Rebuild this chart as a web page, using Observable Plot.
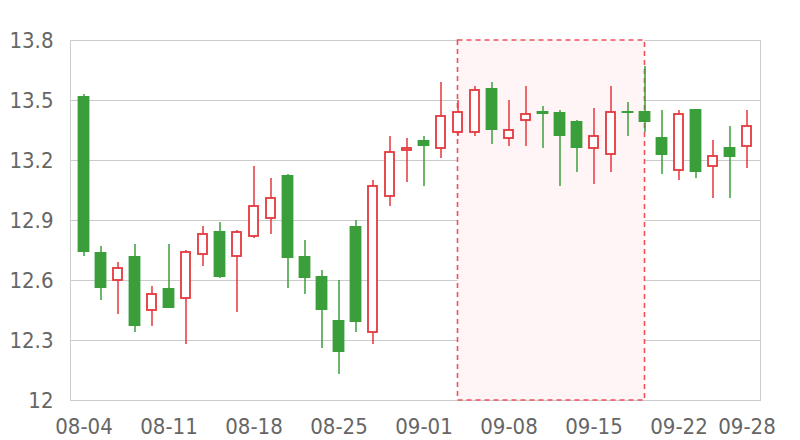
<!DOCTYPE html>
<html><head><meta charset="utf-8">
<script src="https://cdn.jsdelivr.net/npm/d3@7"></script>
<script src="https://cdn.jsdelivr.net/npm/@observablehq/plot@0.6"></script>
<style>body{margin:0;background:#fff}</style>
</head><body><div id="chart"></div>
<script>
const dates = ["08-04","08-05","08-06","08-07","08-08","08-11","08-12","08-13","08-14","08-15",
  "08-18","08-19","08-20","08-21","08-22","08-25","08-26","08-27","08-28","08-29",
  "09-01","09-02","09-03","09-04","09-05","09-08","09-09","09-10","09-11","09-12",
  "09-15","09-16","09-17","09-18","09-19","09-22","09-23","09-24","09-25","09-28"];
const open  = [13.52,12.74,12.60,12.72,12.45,12.56,12.51,12.73,12.845,12.72,
  12.82,12.91,13.125,12.72,12.62,12.40,12.87,12.34,13.02,13.25,
  13.30,13.26,13.34,13.34,13.56,13.31,13.40,13.445,13.44,13.395,
  13.26,13.23,13.445,13.445,13.315,13.15,13.455,13.17,13.265,13.27];
const close = [12.74,12.56,12.66,12.37,12.53,12.46,12.74,12.83,12.615,12.84,
  12.97,13.01,12.71,12.61,12.45,12.24,12.39,13.07,13.24,13.26,
  13.27,13.42,13.44,13.55,13.35,13.35,13.43,13.43,13.32,13.26,
  13.32,13.44,13.435,13.39,13.225,13.43,13.14,13.22,13.215,13.37];
const high  = [13.53,12.77,12.69,12.78,12.57,12.78,12.75,12.87,12.89,12.85,
  13.17,13.11,13.13,12.80,12.65,12.60,12.90,13.10,13.32,13.31,
  13.32,13.59,13.50,13.57,13.59,13.50,13.57,13.47,13.45,13.40,
  13.46,13.57,13.49,13.67,13.45,13.45,13.455,13.30,13.37,13.45];
const low   = [12.72,12.50,12.43,12.34,12.37,12.46,12.28,12.67,12.61,12.44,
  12.81,12.83,12.56,12.53,12.26,12.13,12.34,12.28,12.97,13.09,
  13.07,13.21,13.32,13.32,13.28,13.27,13.27,13.26,13.07,13.14,
  13.08,13.14,13.32,13.34,13.13,13.10,13.11,13.01,13.01,13.16];
const yTicks = [12, 12.3, 12.6, 12.9, 13.2, 13.5, 13.8];
const xTickLabels = ["08-04","08-11","08-18","08-25","09-01","09-08","09-15","09-22","09-28"];
const highlight = ["09-03","09-18"];

const data = dates.map((d,i)=>({date:d, open:open[i], close:close[i], high:high[i], low:low[i], up: close[i] >= open[i]}));
const upData = data.filter(d=>d.up), downData = data.filter(d=>!d.up);
const green = "#3a9e3a", red = "#e5373c";

const chart = Plot.plot({
  width: 800, height: 440,
  marginLeft: 70, marginRight: 40, marginTop: 40, marginBottom: 40,
  style: {fontFamily: "'DejaVu Sans Condensed', 'DejaVu Sans', sans-serif", fontSize: "22px", color: "#666", background: "#fff"},
  x: {type: "band", domain: dates, padding: 0, ticks: xTickLabels, tickSize: 0, tickPadding: 18, label: null},
  y: {domain: [12, 13.8], ticks: yTicks, tickFormat: d => String(d), tickSize: 0, tickPadding: 17, label: null},
  marks: [
    Plot.ruleY(yTicks, {stroke: "#cccccc"}),
    Plot.frame({stroke: "#cccccc"}),
    Plot.ruleX(downData, {x: "date", y1: "low", y2: "high", stroke: green, strokeWidth: 1.5}),
    Plot.ruleX(upData, {x: "date", y1: "low", y2: "high", stroke: red, strokeWidth: 1.5}),
    Plot.barY(downData, {x: "date", y1: "open", y2: "close", fill: green, insetLeft: 2.6, insetRight: 2.6}),
    Plot.barY(upData, {x: "date", y1: "open", y2: "close", fill: "#fff", stroke: red, strokeWidth: 1.8, insetLeft: 4, insetRight: 4})
  ]
});

const xs = chart.scale("x"), ys = chart.scale("y");
const bw = xs.bandwidth;
const hx1 = xs.apply(highlight[0]) + bw/2, hx2 = xs.apply(highlight[1]) + bw/2;
const hy1 = ys.apply(13.8), hy2 = ys.apply(12);
const ns = "http://www.w3.org/2000/svg";
const r = document.createElementNS(ns, "rect");
r.setAttribute("x", hx1); r.setAttribute("y", hy1);
r.setAttribute("width", hx2 - hx1); r.setAttribute("height", hy2 - hy1);
r.setAttribute("fill", "#fff5f6"); r.setAttribute("stroke", "#f0505a");
r.setAttribute("stroke-width", "1.6"); r.setAttribute("stroke-dasharray", "5,4");
const frame = chart.querySelector('[aria-label="frame"]');
if (frame) frame.after(r); else chart.appendChild(r);

document.getElementById("chart").appendChild(chart);
</script>
</body></html>
